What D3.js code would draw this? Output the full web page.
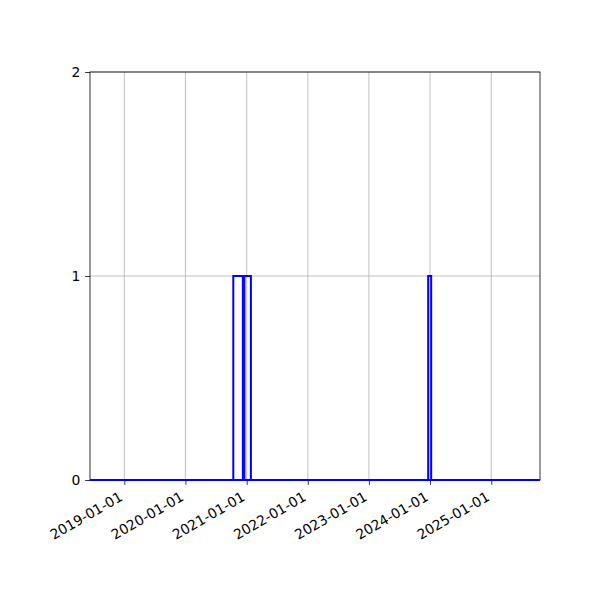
<!DOCTYPE html>
<html>
<head>
<meta charset="utf-8">
<script src="https://cdn.jsdelivr.net/npm/d3@7"></script>
<style>
  body { margin: 0; background: #fff; }
  text { font-family: "DejaVu Sans", sans-serif; }
</style>
</head>
<body>
<svg id="chart" width="600" height="600"></svg>
<script>
// ---- data ----
const binStarts = ["2020-10-13", "2020-12-18", "2023-12-21"];
const binEnds   = ["2020-12-09", "2021-01-26", "2024-01-08"];
const counts    = [1, 1, 1];
const xDomain   = ["2018-06-10", "2025-10-19"];
const xTickLabels = ["2019-01-01", "2020-01-01", "2021-01-01", "2022-01-01", "2023-01-01", "2024-01-01", "2025-01-01"];
const yTicks    = [0, 1, 2];

const parse = d3.utcParse("%Y-%m-%d");
const bars = binStarts.map((s, i) => ({ x0: parse(s), x1: parse(binEnds[i]), n: counts[i] }));

const svg = d3.select("#chart");
const L = 90, R = 540, T = 72, B = 480;
const x = d3.scaleUtc().domain(xDomain.map(parse)).range([L, R]);
const y = d3.scaleLinear().domain([0, 2]).range([B, T]);

const fs = 13.9;
const grid = "#b0b0b0";

// grid
const g = svg.append("g");
g.selectAll(".vg").data(xTickLabels).join("line")
  .attr("x1", d => x(parse(d))).attr("x2", d => x(parse(d)))
  .attr("y1", T).attr("y2", B)
  .attr("stroke", grid).attr("stroke-width", 0.8);
g.selectAll(".hg").data(yTicks).join("line")
  .attr("x1", L).attr("x2", R)
  .attr("y1", d => y(d)).attr("y2", d => y(d))
  .attr("stroke", grid).attr("stroke-width", 0.8);

// axes
const xAxis = d3.axisBottom(x).tickValues(xTickLabels.map(parse))
  .tickSize(4.86).tickPadding(4.86).tickFormat(d3.utcFormat("%Y-%m-%d"));
const xg = svg.append("g").attr("transform", `translate(0,${B})`).call(xAxis);
xg.select(".domain").remove();
xg.selectAll(".tick line").attr("stroke", "#000").attr("stroke-width", 0.8);
xg.selectAll(".tick text")
  .attr("font-size", fs).attr("font-family", "DejaVu Sans").attr("fill", "#000")
  .attr("text-anchor", "end")
  .attr("y", 0).attr("dy", "0.76em")
  .attr("transform", "translate(-6.5,10.5) rotate(-30)");

const yAxis = d3.axisLeft(y).tickValues(yTicks).tickSize(4.86).tickPadding(4.86).tickFormat(d3.format("d"));
const yg = svg.append("g").attr("transform", `translate(${L},0)`).call(yAxis);
yg.select(".domain").remove();
yg.selectAll(".tick line").attr("stroke", "#000").attr("stroke-width", 0.8);
yg.selectAll(".tick text").attr("font-size", fs).attr("font-family", "DejaVu Sans").attr("fill", "#000");

// frame
svg.append("rect").attr("x", L).attr("y", T).attr("width", R - L).attr("height", B - T)
  .attr("fill", "none").attr("stroke", "#000").attr("stroke-width", 0.8);

// baseline (zero-count bins)
svg.append("line")
  .attr("x1", x.range()[0]).attr("x2", x.range()[1])
  .attr("y1", y(0)).attr("y2", y(0))
  .attr("stroke", "blue").attr("stroke-width", 2);

// bars
svg.append("g").selectAll("rect").data(bars).join("rect")
  .attr("x", d => x(d.x0))
  .attr("width", d => x(d.x1) - x(d.x0))
  .attr("y", d => y(d.n))
  .attr("height", d => y(0) - y(d.n))
  .attr("fill", "none").attr("stroke", "blue").attr("stroke-width", 2);
</script>
</body>
</html>
